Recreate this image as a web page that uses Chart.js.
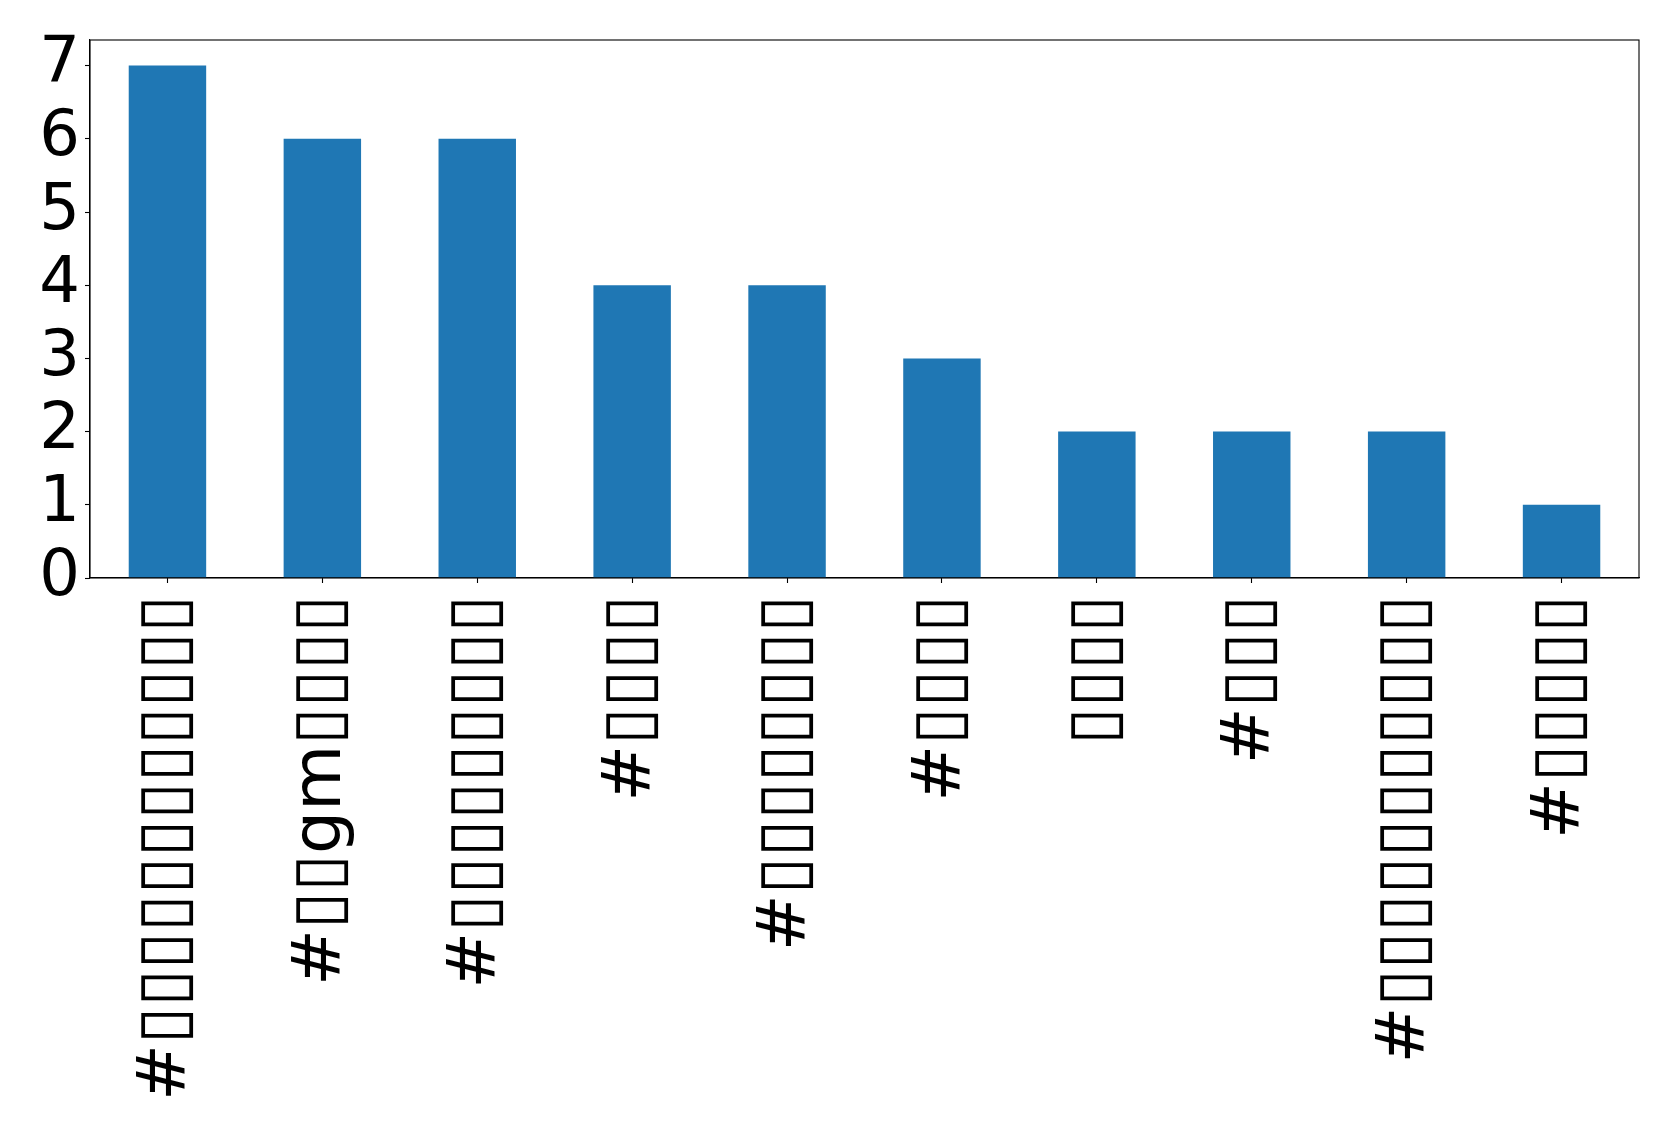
<!DOCTYPE html>
<html>
<head>
<meta charset="utf-8">
<script src="https://cdn.jsdelivr.net/npm/chart.js@4/dist/chart.umd.min.js"></script>
<style>
  body{margin:0;background:#fff;}
</style>
</head>
<body>
<canvas id="graph" width="1679" height="1131"></canvas>
<script>
// the tags could not be drawn in the source image (missing glyphs), kept as boxes
var B = '\u25AF';
var tags = [
  '#' + B.repeat(12),
  '#' + B + B + 'gm' + B.repeat(4),
  '#' + B.repeat(9),
  '#' + B.repeat(4),
  '#' + B.repeat(8),
  '#' + B.repeat(4),
  B.repeat(4),
  '#' + B.repeat(3),
  '#' + B.repeat(11),
  '#' + B.repeat(5)
];
var counts = [7, 6, 6, 4, 4, 3, 2, 2, 2, 1];
var yTicks = [0, 1, 2, 3, 4, 5, 6, 7];

// matplotlib style frame round the plot area
var frame = {
  id: 'frame',
  afterDraw: function(chart){
    var a = chart.chartArea;
    var c = chart.ctx;
    c.save();
    c.strokeStyle = '#000';
    c.lineWidth = 1.1;
    c.strokeRect(a.left, a.top, a.right - a.left, a.bottom - a.top);
    c.restore();
  }
};

var ctx = document.getElementById('graph').getContext('2d');
var myChart = new Chart(ctx, {
  type: 'bar',
  data: {
    labels: tags,
    datasets: [{
      data: counts,
      backgroundColor: '#1f77b4',
      categoryPercentage: 1,
      barPercentage: 0.5
    }]
  },
  options: {
    responsive: false,
    animation: false,
    devicePixelRatio: 1,
    layout: {padding: {top: 40, right: 40, left: 0, bottom: 0}},
    plugins: {legend: {display: false}, tooltip: {enabled: false}},
    scales: {
      x: {
        grid: {drawOnChartArea: false, offset: false, tickLength: 5, tickColor: '#000', tickWidth: 1.1},
        border: {color: '#000', width: 1.1},
        ticks: {
          color: '#000', autoSkip: false, maxRotation: 90, minRotation: 90, padding: 12,
          font: {family: 'DejaVu Sans', size: 68}
        },
        afterFit: function(s){ s.height = 553; }
      },
      y: {
        min: 0,
        max: 7.35,
        grid: {drawOnChartArea: false, tickLength: 5, tickColor: '#000', tickWidth: 1.1},
        border: {color: '#000', width: 1.1},
        ticks: {
          color: '#000', stepSize: 1, padding: 5, autoSkip: false,
          font: {family: 'DejaVu Sans', size: 64, lineHeight: 1}
        },
        afterBuildTicks: function(s){
          s.ticks = yTicks.map(function(v){ return {value: v}; });
        },
        afterFit: function(s){ s.width = 90; }
      }
    }
  },
  plugins: [frame]
});
</script>
</body>
</html>
